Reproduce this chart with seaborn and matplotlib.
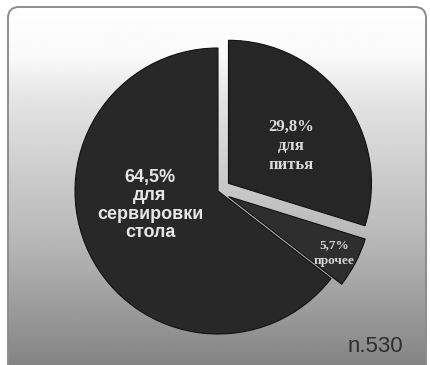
import numpy as np
import matplotlib
matplotlib.use("Agg")
import matplotlib.pyplot as plt
from matplotlib.patches import FancyBboxPatch
import seaborn as sns

# Purpose of glassware purchases
shares = [64.5, 5.7, 29.8]
share_labels = ["64,5%", "5,7%", "29,8%"]
purposes = ["для\nсервировки\nстола", "прочее", "для\nпитья"]
sample_note = "n.530"

sns.set_theme(style="white")
plt.rcParams["font.family"] = ["Liberation Sans", "DejaVu Sans"]

W, H = 430, 365
fig = plt.figure(figsize=(W / 100, H / 100), dpi=100)
ax = fig.add_axes([0, 0, 1, 1])
ax.set_xlim(0, W)
ax.set_ylim(0, H)
ax.axis("off")

# rounded panel with a vertical white-to-grey gradient
panel = FancyBboxPatch((8, -20), 418, H - 7 + 20,
                       boxstyle="round,pad=0,rounding_size=11",
                       facecolor="none", edgecolor="#8c8c8c", linewidth=1.4,
                       zorder=2)
ax.add_patch(panel)
ys = np.linspace(0, H, 400)
grey = np.interp(H - ys, [0, 55, 100, 250, 365], [255, 250, 228, 180, 132]) / 255
grad = np.repeat(grey[:, None], 2, axis=1)
img = ax.imshow(grad, extent=(8, 426, 0, H), origin="lower", cmap="gray",
                vmin=0, vmax=1, aspect="auto", zorder=1)
img.set_clip_path(panel)

# pie: largest slice counter-clockwise from the top, two smaller slices
# pulled out (explode distance is in axes data units, i.e. pixels here)
cx, cy, r = 218, H - 191, 143
colors = sns.color_palette(["#282828", "#2e2e2e", "#262626"])
wedges, _ = ax.pie(shares, explode=[0, 12, 13], startangle=90,
                   counterclock=True, colors=colors, center=(cx, cy),
                   radius=r, frame=True,
                   wedgeprops=dict(edgecolor="#111111", linewidth=0.8))
for w in wedges:
    w.set_zorder(3)
ax.set_xlim(0, W)
ax.set_ylim(0, H)
ax.axis("off")

# slice labels
ax.text(150, H - 205, share_labels[0] + "\n" + purposes[0], ha="center",
        va="center", color="#e6e6e6", fontsize=13, fontweight="bold",
        linespacing=1.12, zorder=4)
ax.text(291, H - 146, share_labels[2] + "\n" + purposes[2], ha="center",
        va="center", color="#dcdcdc", fontsize=12, fontweight="bold",
        family=["Liberation Serif", "DejaVu Serif"], linespacing=1.25,
        zorder=4)
ax.text(334, H - 253, share_labels[1] + "\n" + purposes[1], ha="center",
        va="center", color="#d6d6d6", fontsize=9.5, fontweight="bold",
        family=["Liberation Serif", "DejaVu Serif"], linespacing=1.35,
        zorder=4)

ax.text(375, H - 347, sample_note, ha="center", va="center",
        color="#2e2e2e", fontsize=16, zorder=4)

fig.savefig("out.png", dpi=100)
